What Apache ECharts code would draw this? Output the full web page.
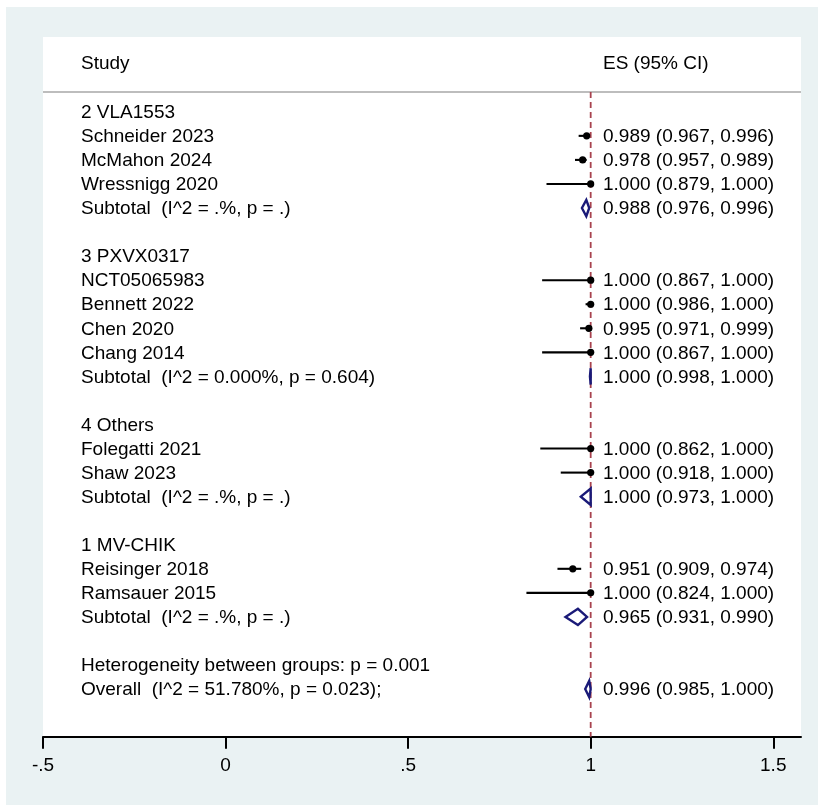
<!DOCTYPE html>
<html><head><meta charset="utf-8">
<script src="https://cdn.jsdelivr.net/npm/echarts@6/dist/echarts.min.js"></script>
<style>html,body{margin:0;padding:0;background:#fff}#c{width:818px;height:805px}</style>
</head><body><div id="c"></div>
<script>
// ---- data ----
const rowLabels = [
  '2 VLA1553','Schneider 2023','McMahon 2024','Wressnigg 2020','Subtotal  (I^2 = .%, p = .)','',
  '3 PXVX0317','NCT05065983','Bennett 2022','Chen 2020','Chang 2014','Subtotal  (I^2 = 0.000%, p = 0.604)','',
  '4 Others','Folegatti 2021','Shaw 2023','Subtotal  (I^2 = .%, p = .)','',
  '1 MV-CHIK','Reisinger 2018','Ramsauer 2015','Subtotal  (I^2 = .%, p = .)','',
  'Heterogeneity between groups: p = 0.001','Overall  (I^2 = 51.780%, p = 0.023);'
];
const studyRows = [1,2,3,7,8,9,10,14,15,19,20];
const studyES   = [0.989,0.978,1.000,1.000,1.000,0.995,1.000,1.000,1.000,0.951,1.000];
const studyLo   = [0.967,0.957,0.879,0.867,0.986,0.971,0.867,0.862,0.918,0.909,0.824];
const studyHi   = [0.996,0.989,1.000,1.000,1.000,0.999,1.000,1.000,1.000,0.974,1.000];
const poolRows  = [4,11,16,21,24];
const poolES    = [0.988,1.000,1.000,0.965,0.996];
const poolLo    = [0.976,0.998,0.973,0.931,0.985];
const poolHi    = [0.996,1.000,1.000,0.990,1.000];
const xTicks      = [-0.5,0,0.5,1,1.5];
const xTickLabels = ['-.5','0','.5','1','1.5'];
const headerLeft = 'Study';
const headerRight = 'ES (95% CI)';
const nullValue = 1;

// ---- build ----
const FONT = '19px "Liberation Sans", Arial, Helvetica, sans-serif';
const HEADER_ROW = -2.05, LINE_ROW = -0.82, Y_MIN = -3.11, Y_MAX = 25.98;
const fmt = v => v.toFixed(3);
const textData = [];
textData.push([HEADER_ROW, headerLeft, 0]);
textData.push([HEADER_ROW, headerRight, 1]);
rowLabels.forEach((t, i) => { if (t) textData.push([i, t, 0]); });
studyRows.forEach((r, i) => textData.push([r, fmt(studyES[i]) + ' (' + fmt(studyLo[i]) + ', ' + fmt(studyHi[i]) + ')', 1]));
poolRows.forEach((r, i) => textData.push([r, fmt(poolES[i]) + ' (' + fmt(poolLo[i]) + ', ' + fmt(poolHi[i]) + ')', 1]));

const studyData = studyRows.map((r, i) => [studyES[i], r, studyLo[i], studyHi[i]]);
const poolData = poolRows.map((r, i) => [poolES[i], r, poolLo[i], poolHi[i]]);

const chart = echarts.init(document.getElementById('c'), null, {renderer: 'canvas'});
chart.setOption({
  backgroundColor: '#EAF2F3',
  animation: false,
  graphic: [
    {type: 'rect', shape: {x: 0, y: 0, width: 6, height: 805}, style: {fill: '#fff'}, silent: true},
    {type: 'rect', shape: {x: 0, y: 0, width: 818, height: 7}, style: {fill: '#fff'}, silent: true}
  ],
  grid: {left: 43, right: 17, top: 37, bottom: 68.3, show: true, backgroundColor: '#fff', borderWidth: 0},
  xAxis: {
    type: 'value', min: -0.5, max: 1.576, interval: 0.5,
    axisLine: {show: true, onZero: false, lineStyle: {color: '#000', width: 2}},
    axisTick: {show: true, length: 12, customValues: xTicks, lineStyle: {color: '#000', width: 2}},
    axisLabel: {customValues: xTicks, color: '#000', fontSize: 19, fontFamily: '"Liberation Sans", Arial, sans-serif', margin: 20,
      formatter: v => { const k = xTicks.findIndex(t => Math.abs(t - v) < 1e-9); return k >= 0 ? xTickLabels[k] : ''; }},
    splitLine: {show: false}
  },
  yAxis: {type: 'value', inverse: true, min: Y_MIN, max: Y_MAX, show: false},
  series: [
    { // header separator
      type: 'line', data: [[-0.5, LINE_ROW], [1.576, LINE_ROW]], symbol: 'none', silent: true, z: 1,
      lineStyle: {color: '#BDBDBD', width: 2}
    },
    { // null line
      type: 'line', data: [[nullValue, LINE_ROW], [nullValue, Y_MAX]], symbol: 'none', silent: true, z: 1,
      lineStyle: {color: '#A8434F', width: 1.8, type: [6, 4]}
    },
    { // study CIs + points
      type: 'custom', z: 3, silent: true, data: studyData,
      encode: {x: 0, y: 1},
      renderItem: (params, api) => {
        const y = api.value(1);
        const p = api.coord([api.value(0), y]);
        const a = api.coord([api.value(2), y]);
        const b = api.coord([api.value(3), y]);
        return {type: 'group', children: [
          {type: 'line', shape: {x1: a[0], y1: a[1], x2: b[0], y2: b[1]}, style: {stroke: '#000', lineWidth: 2.1}},
          {type: 'circle', shape: {cx: p[0], cy: p[1], r: 3.6}, style: {fill: '#000'}}
        ]};
      }
    },
    { // pooled diamonds
      type: 'custom', z: 4, silent: true, data: poolData,
      encode: {x: 0, y: 1},
      renderItem: (params, api) => {
        const y = api.value(1);
        const c = api.coord([api.value(0), y]);
        const l = api.coord([api.value(2), y]);
        const r = api.coord([api.value(3), y]);
        const h = api.size([0, 1])[1] * 0.34;
        return {type: 'polygon', shape: {points: [[l[0], c[1]], [c[0], c[1] - h], [r[0], c[1]], [c[0], c[1] + h]]},
          style: {fill: 'none', stroke: '#1A1A78', lineWidth: 2.4, lineJoin: 'miter'}};
      }
    },
    { // text columns
      type: 'custom', z: 5, silent: true, data: textData,
      encode: {y: 0},
      renderItem: (params, api) => {
        const row = api.value(0);
        const item = textData[params.dataIndex];
        const y = api.coord([0, row])[1] + 1;
        const cs = params.coordSys;
        const x = item[2] === 0 ? cs.x + 38 : cs.x + 560;
        return {type: 'text', style: {text: item[1], x: x, y: y, fill: '#000', font: FONT, align: 'left', verticalAlign: 'middle'}};
      }
    }
  ]
});
</script>
</body></html>
